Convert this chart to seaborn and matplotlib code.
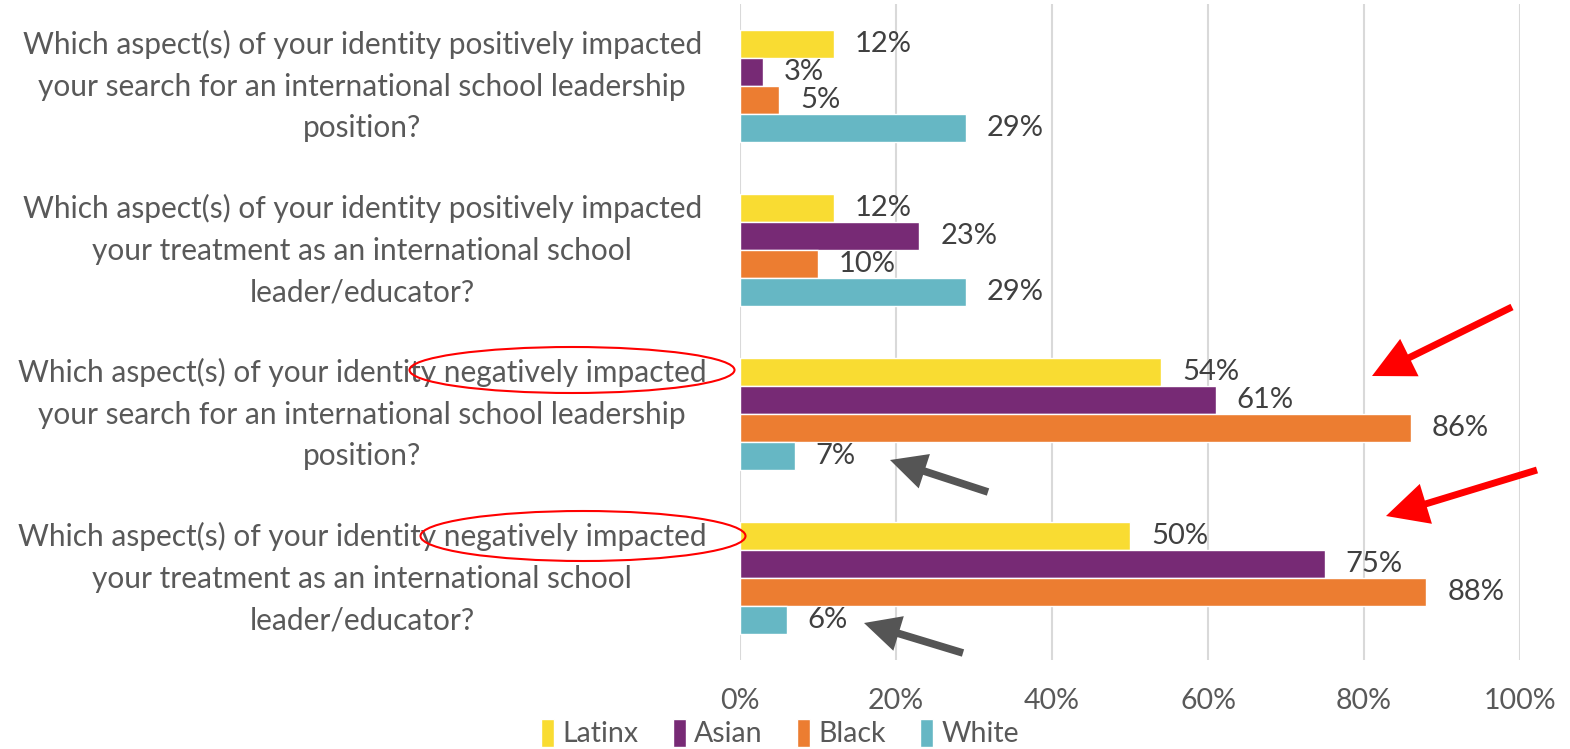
import pandas as pd
import matplotlib.pyplot as plt
import seaborn as sns
from matplotlib.patches import Ellipse

# Data
questions = [
    "Which aspect(s) of your identity positively impacted\nyour search for an international school leadership\nposition?",
    "Which aspect(s) of your identity positively impacted\nyour treatment as an international school\nleader/educator?",
    "Which aspect(s) of your identity negatively impacted\nyour search for an international school leadership\nposition?",
    "Which aspect(s) of your identity negatively impacted\nyour treatment as an international school\nleader/educator?",
]
groups = ["Latinx", "Asian", "Black", "White"]
latinx = [12, 12, 54, 50]
asian = [3, 23, 61, 75]
black = [5, 10, 86, 88]
white = [29, 29, 7, 6]
colors = ["#F9DC32", "#772A75", "#EC7D31", "#66B7C4"]
xticks = [0, 20, 40, 60, 80, 100]

df = pd.DataFrame({
    "question": questions * 4,
    "group": sum([[g] * 4 for g in groups], []),
    "value": latinx + asian + black + white,
})

sns.set_style("white")
plt.rcParams['font.family'] = ['Lato', 'DejaVu Sans']
W, H = 1570, 749
fig = plt.figure(figsize=(W / 100, H / 100), dpi=100)
ax = fig.add_axes([740 / W, 1 - 660 / H, 780 / W, 656 / H])

sns.barplot(data=df, y="question", x="value", hue="group", orient="h",
            palette=colors, width=0.68, saturation=1, ax=ax)

for cont in ax.containers:
    ax.bar_label(cont, labels=[f"{v:.0f}%" for v in cont.datavalues],
                 padding=15, fontsize=21, color="#404040")

ax.set_xlim(0, 100)
ax.set_xticks(xticks)
ax.set_xticklabels([f"{t}%" for t in xticks], fontsize=20.5, color="#595959")
ax.set_yticks(range(len(questions)))
ax.set_yticklabels(questions, fontsize=21.5, color="#595959", ha="center",
                   va="center", multialignment="center", linespacing=1.6)
ax.tick_params(axis="y", length=0, pad=272)
ax.tick_params(axis="x", length=0, pad=20)
ax.set_xlabel("")
ax.set_ylabel("")
ax.grid(True, axis="x", color="#D9D9D9", linewidth=1.5)
ax.set_axisbelow(True)
sns.despine(ax=ax, left=True, bottom=True)

handles, labels = ax.get_legend_handles_labels()
ax.legend_.remove()
fig.legend(handles, labels, loc="center", bbox_to_anchor=(780 / W, 1 - 733 / H),
           ncol=4, frameon=False, fontsize=20.5, handlelength=0.45, handleheight=1.15,
           handletextpad=0.3, columnspacing=1.2, labelcolor="#595959")


def fp(x, y):
    return (x / W, 1 - y / H)


# red ellipses around "negatively impacted"
for cx, cy, w, h in [(572, 370, 325, 46), (583, 536, 325, 50)]:
    fig.add_artist(Ellipse(fp(cx, cy), w / W, h / H, transform=fig.transFigure,
                           fill=False, edgecolor="red", linewidth=1.5))

# red arrows
for tail, head in [((1512, 307), (1372, 376)), ((1537, 470), (1386, 516))]:
    ax.annotate("", xy=fp(*head), xycoords="figure fraction",
                xytext=fp(*tail), textcoords="figure fraction",
                arrowprops=dict(width=5, headwidth=30, headlength=30,
                                facecolor="#FF0000", edgecolor="none"))

# gray arrows
for tail, head in [((988, 492), (890, 460)), ((963, 653), (864, 623))]:
    ax.annotate("", xy=fp(*head), xycoords="figure fraction",
                xytext=fp(*tail), textcoords="figure fraction",
                arrowprops=dict(width=5.5, headwidth=26, headlength=26,
                                facecolor="#555555", edgecolor="none"))

fig.savefig("out.png", dpi=100)
